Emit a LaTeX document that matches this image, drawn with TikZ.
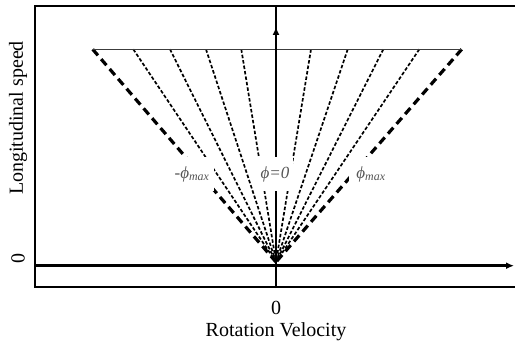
\documentclass[tikz,border=0pt]{standalone}
\usepackage{fontspec}
\setmainfont{Liberation Serif}
\usetikzlibrary{arrows.meta}
\definecolor{labgray}{RGB}{85,85,85}
\definecolor{topgray}{RGB}{60,60,60}
\begin{document}
\begin{tikzpicture}[x=1pt,y=-1pt,
  axisline/.style={line width=2.9pt},
  fan/.style={line width=1.7pt, dash pattern=on 3.5pt off 2pt},
  fanouter/.style={line width=3.2pt, dash pattern=on 8pt off 5pt},
  topline/.style={line width=1.4pt, draw=topgray},
  lab/.style={fill=white, text=labgray, inner sep=0pt, minimum height=34pt, font=\fontsize{17}{17}\selectfont\itshape},
  txt/.style={font=\fontsize{20}{20}\selectfont, inner sep=0pt}]
\useasboundingbox (0,0) rectangle (515,345);
\clip (0,0) rectangle (515,345);
% frame
\coordinate (fa) at (34.5,286.7);
\coordinate (fb) at (530,5.7);
\draw[line width=2pt] (fa) rectangle (fb);
% fan lines
\coordinate (O) at (276,262);
\coordinate (tl) at (92.7,49.3);
\coordinate (tr) at (461.7,49.3);
\foreach \n/\x in {1/133.3,2/170,3/206,4/241.3,5/311,6/347.7,7/383.3,8/419.3}{
  \coordinate (t\n) at (\x,49.3);
  \draw[fan] (t\n) -- (O);
}
\draw[fanouter] (tl) -- (O);
\draw[fanouter] (tr) -- (O);
\draw[topline] (tl) -- (tr);
% axes
\coordinate (xa) at (34.5,265.7);
\coordinate (xb) at (514,265.7);
\draw[axisline,-{Latex[length=8pt,width=7pt]}] (xa) -- (xb);
\coordinate (ya) at (276,288);
\coordinate (yb) at (276,5.7);
\draw[axisline] (ya) -- (yb);
\coordinate (yarr0) at (276,45);
\coordinate (yarr) at (276,27);
\draw[axisline,-{Latex[length=8pt,width=7pt]}] (yarr0) -- (yarr);
% labels
\node[lab, minimum width=44pt] (lm) at (192,174) {-ϕ\textsubscript{max}};
\node[lab, minimum width=36pt] (l0) at (275,174) {ϕ=0};
\node[lab, minimum width=44pt] (lp) at (371,174) {ϕ\textsubscript{max}};
% axis texts
\node[txt, rotate=90] (ylab) at (18,118) {Longitudinal speed};
\node[txt, rotate=90] (y0) at (18,258) {0};
\node[txt] (x0) at (276,308) {0};
\node[txt] (xlab) at (276,332) {Rotation Velocity};
\end{tikzpicture}
\end{document}
